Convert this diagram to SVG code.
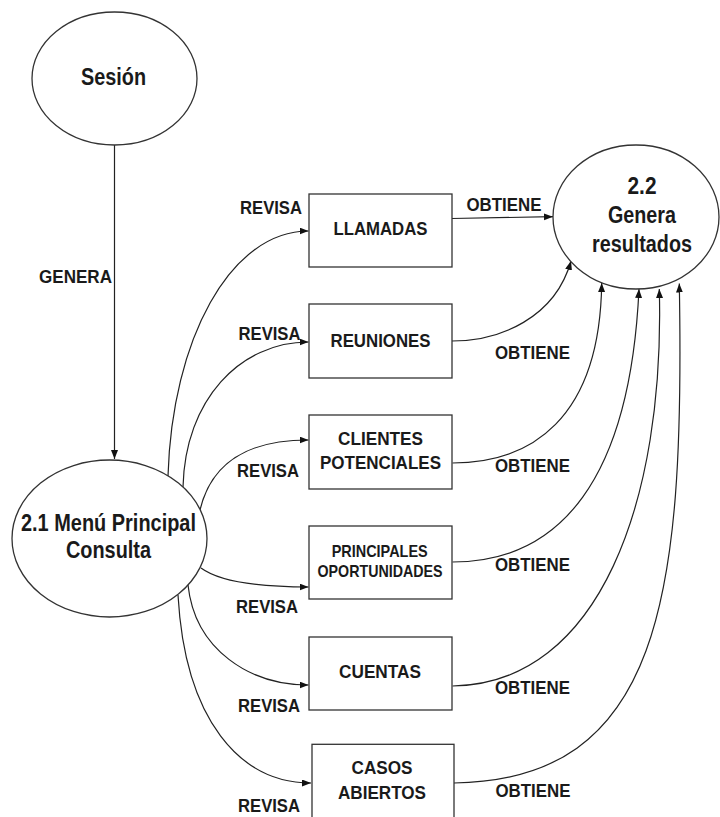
<svg xmlns="http://www.w3.org/2000/svg" width="720" height="817" viewBox="0 0 720 817">
<style>
  .shape { fill: #ffffff; stroke: #333333; stroke-width: 1.3; }
  .conn { fill: none; stroke: #222222; stroke-width: 1.2; marker-end: url(#arrow); }
  text { font-family: "Liberation Sans", Arial, sans-serif; font-weight: bold; fill: #1a1a1a; text-anchor: middle; }
  .big { font-size: 23px; }
  .lbl { font-size: 19px; }
  .small { font-size: 17px; }
</style>
<defs>
  <marker id="arrow" markerUnits="userSpaceOnUse" markerWidth="10" markerHeight="8" refX="9" refY="3.5" orient="auto">
    <path d="M0,0 L9,3.5 L0,7 z" fill="#111111"/>
  </marker>
</defs>
<rect width="720" height="817" fill="#ffffff"/>

<g id="connectors">
  <path id="c-genera" class="conn" d="M114.5,145 L114.5,459"/>
  <path id="c-revisa-llamadas" class="conn" d="M168,476 C172,340 230,231 308.5,231"/>
  <path id="c-revisa-reuniones" class="conn" d="M183,487 C185,400 240,342 308.5,342"/>
  <path id="c-revisa-clientes" class="conn" d="M200,510 C213,455 258,440 308.5,440"/>
  <path id="c-revisa-principales" class="conn" d="M201,568 C220,582 260,587 308.5,587"/>
  <path id="c-revisa-cuentas" class="conn" d="M188,585 C195,650 250,685 308.5,685"/>
  <path id="c-revisa-casos" class="conn" d="M178,595 C185,720 240,783 311,783"/>
  <path id="c-obtiene-llamadas" class="conn" d="M452,218.5 L553,216.7"/>
  <path id="c-obtiene-reuniones" class="conn" d="M452,341 C500,341 555,318 571,261"/>
  <path id="c-obtiene-clientes" class="conn" d="M452.5,463 C530,463 600,420 601.7,283"/>
  <path id="c-obtiene-principales" class="conn" d="M452.5,562 C560,562 630,480 639,289"/>
  <path id="c-obtiene-cuentas" class="conn" d="M452.5,686 C600,684 665,500 659.3,289"/>
  <path id="c-obtiene-casos" class="conn" d="M454,783 C660,780 685,600 679.3,283.5"/>
</g>

<g id="node-sesion">
  <ellipse class="shape" cx="114.5" cy="78.5" rx="82.5" ry="66.5"/>
  <text class="big" x="113.5" y="85" textLength="65" lengthAdjust="spacingAndGlyphs">Sesión</text>
</g>

<g id="node-menu">
  <ellipse class="shape" cx="109.5" cy="538.5" rx="97.5" ry="78.5"/>
  <text class="big" x="108.5" y="531" textLength="175" lengthAdjust="spacingAndGlyphs">2.1 Menú Principal</text>
  <text class="big" x="108.5" y="558" textLength="85" lengthAdjust="spacingAndGlyphs">Consulta</text>
</g>

<g id="node-resultados">
  <ellipse class="shape" cx="636" cy="217" rx="83" ry="72"/>
  <text class="big" x="642" y="193.5" textLength="29" lengthAdjust="spacingAndGlyphs">2.2</text>
  <text class="big" x="642" y="222.7" textLength="68" lengthAdjust="spacingAndGlyphs">Genera</text>
  <text class="big" x="642" y="251.7" textLength="100" lengthAdjust="spacingAndGlyphs">resultados</text>
</g>

<g id="node-llamadas">
  <rect class="shape" x="309" y="194" width="143" height="73"/>
  <text class="lbl" x="380.5" y="235" textLength="94" lengthAdjust="spacingAndGlyphs">LLAMADAS</text>
</g>

<g id="node-reuniones">
  <rect class="shape" x="309" y="304" width="143" height="74"/>
  <text class="lbl" x="380.5" y="346.7" textLength="100" lengthAdjust="spacingAndGlyphs">REUNIONES</text>
</g>

<g id="node-clientes">
  <rect class="shape" x="309" y="415" width="143" height="74"/>
  <text class="lbl" x="380.5" y="445" textLength="85" lengthAdjust="spacingAndGlyphs">CLIENTES</text>
  <text class="lbl" x="380.5" y="469.3" textLength="121" lengthAdjust="spacingAndGlyphs">POTENCIALES</text>
</g>

<g id="node-oportunidades">
  <rect class="shape" x="309" y="526" width="143" height="73"/>
  <text class="small" x="379.7" y="556.7" textLength="96" lengthAdjust="spacingAndGlyphs">PRINCIPALES</text>
  <text class="small" x="380" y="577.3" textLength="125" lengthAdjust="spacingAndGlyphs">OPORTUNIDADES</text>
</g>

<g id="node-cuentas">
  <rect class="shape" x="309" y="637" width="143" height="73"/>
  <text class="lbl" x="380" y="678.3" textLength="82" lengthAdjust="spacingAndGlyphs">CUENTAS</text>
</g>

<g id="node-casos">
  <rect class="shape" x="312" y="744.3" width="142" height="80"/>
  <text class="lbl" x="382" y="774" textLength="61" lengthAdjust="spacingAndGlyphs">CASOS</text>
  <text class="lbl" x="382" y="799" textLength="88" lengthAdjust="spacingAndGlyphs">ABIERTOS</text>
</g>

<g id="connector-labels">
  <text class="lbl" x="75.5" y="283" textLength="73" lengthAdjust="spacingAndGlyphs">GENERA</text>
  <text class="lbl" x="271" y="213.5" textLength="62" lengthAdjust="spacingAndGlyphs">REVISA</text>
  <text class="lbl" x="269.5" y="339.5" textLength="62" lengthAdjust="spacingAndGlyphs">REVISA</text>
  <text class="lbl" x="268" y="477" textLength="62" lengthAdjust="spacingAndGlyphs">REVISA</text>
  <text class="lbl" x="267" y="613.3" textLength="62" lengthAdjust="spacingAndGlyphs">REVISA</text>
  <text class="lbl" x="269" y="712" textLength="62" lengthAdjust="spacingAndGlyphs">REVISA</text>
  <text class="lbl" x="269" y="812" textLength="62" lengthAdjust="spacingAndGlyphs">REVISA</text>
  <text class="lbl" x="504" y="210.5" textLength="75" lengthAdjust="spacingAndGlyphs">OBTIENE</text>
  <text class="lbl" x="532.5" y="359.3" textLength="75" lengthAdjust="spacingAndGlyphs">OBTIENE</text>
  <text class="lbl" x="532.5" y="472.3" textLength="75" lengthAdjust="spacingAndGlyphs">OBTIENE</text>
  <text class="lbl" x="532.5" y="571" textLength="75" lengthAdjust="spacingAndGlyphs">OBTIENE</text>
  <text class="lbl" x="532.5" y="694" textLength="75" lengthAdjust="spacingAndGlyphs">OBTIENE</text>
  <text class="lbl" x="533" y="797" textLength="75" lengthAdjust="spacingAndGlyphs">OBTIENE</text>
</g>
</svg>
